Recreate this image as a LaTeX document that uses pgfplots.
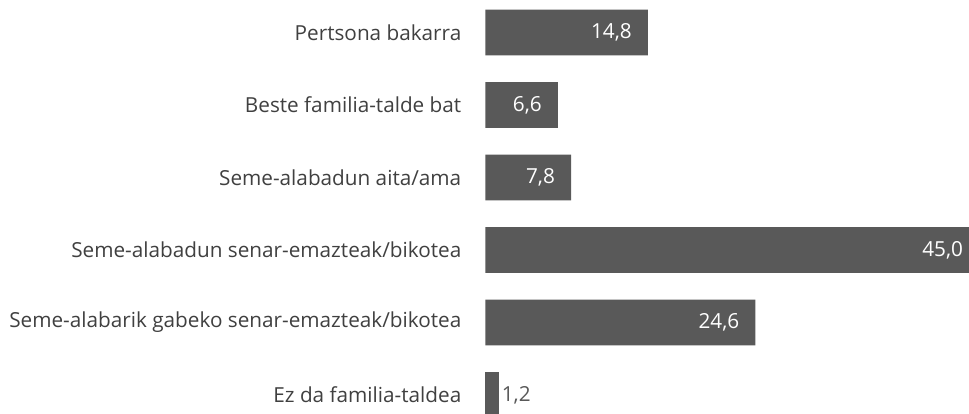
\documentclass[border=0pt]{standalone}
\usepackage{pgfplots}
\pgfplotsset{compat=1.18}
\usepackage{fontspec}
\setmainfont{Open Sans}
\definecolor{barfill}{HTML}{595959}
\definecolor{labeltext}{HTML}{404040}

\begin{document}
\begin{tikzpicture}
\begin{axis}[
  xbar, bar shift=0pt,
  scale only axis,
  width=483.5bp, height=414bp,
  xmin=0, xmax=44.07,
  ymin=-0.448, ymax=5.262, y dir=reverse,
  bar width=45.7bp,
  ytick={0,...,5},
  yticklabels={Pertsona bakarra, Beste familia-talde bat, Seme-alabadun aita/ama,
    Seme-alabadun senar-emazteak/bikotea,
    Seme-alabarik gabeko senar-emazteak/bikotea, Ez da familia-taldea},
  xtick=\empty,
  axis line style={draw=none},
  major tick length=0pt,
  yticklabel style={font=\fontsize{20.8}{24}\selectfont, text=labeltext,
    inner sep=0pt, anchor=east, xshift=-24bp},
  clip=false,
  /pgf/number format/fixed,
  /pgf/number format/fixed zerofill,
  /pgf/number format/precision=1,
  /pgf/number format/use comma,
  /pgf/number format/assume math mode=true,
]
% values inside the bar
\addplot[fill=barfill, draw=none, nodes near coords,
  every node near coord/.append style={anchor=east, xshift=-16bp, inner sep=0pt,
    text=white, font=\fontsize{20.8}{24}\selectfont}]
  coordinates {(14.8,0) (6.6,1) (7.8,2) (45.0,3) (24.6,4)};
% small bar, value outside
\addplot[fill=barfill, draw=none, nodes near coords,
  every node near coord/.append style={anchor=west, xshift=3bp, inner sep=0pt,
    text=barfill, font=\fontsize{20.8}{24}\selectfont}]
  coordinates {(1.2,5)};
\end{axis}
\pgfresetboundingbox
\path[use as bounding box] ([xshift=-485.5bp]current axis.south west) rectangle (current axis.north east);
\end{tikzpicture}
\end{document}
